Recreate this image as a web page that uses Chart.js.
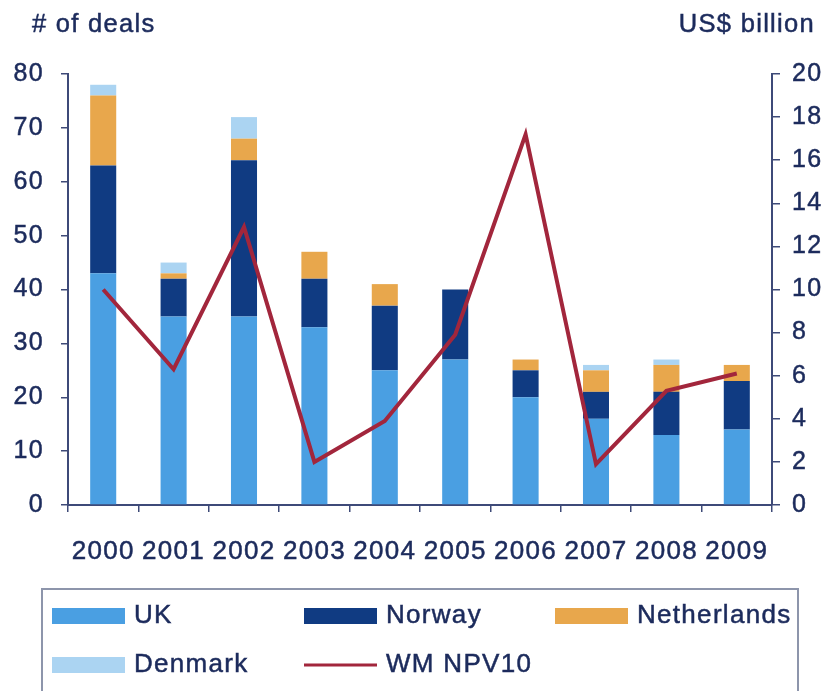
<!DOCTYPE html>
<html>
<head>
<meta charset="utf-8">
<script src="https://cdn.jsdelivr.net/npm/chart.js@4/dist/chart.umd.min.js"></script>
<style>
  html, body { margin: 0; padding: 0; background: #ffffff; }
  canvas { display: block; }
</style>
</head>
<body>
<canvas id="chart" width="831" height="691"></canvas>
<script>
// Deal counts by country (left axis) and value of deals (right axis)
const years = ['2000', '2001', '2002', '2003', '2004', '2005', '2006', '2007', '2008', '2009'];
const ukDeals          = [43, 35, 35, 33, 25, 27, 20, 16, 13, 14];
const norwayDeals      = [20,  7, 29,  9, 12, 13,  5,  5,  8,  9];
const netherlandsDeals = [13,  1,  4,  5,  4,  0,  2,  4,  5,  3];
const denmarkDeals     = [ 2,  2,  4,  0,  0,  0,  0,  1,  1,  0];
const wmNpv10          = [10, 6.3, 12.9, 2.0, 3.9, 7.9, 17.2, 1.9, 5.3, 6.1];

const dealTicks  = [0, 10, 20, 30, 40, 50, 60, 70, 80];
const valueTicks = [0, 2, 4, 6, 8, 10, 12, 14, 16, 18, 20];

const TEXT = '#1c2b5c';
const AXIS = '#3e4a78';
const FONT = '"Liberation Sans", Arial, Helvetica, sans-serif';
const SPACING = '1.3px';
const STROKE = 0.5;

// Slightly widened lettering for all canvas text
const letterSpacing = {
  id: 'letterSpacing',
  beforeInit(chart) { chart.ctx.letterSpacing = SPACING; },
  beforeUpdate(chart) { chart.ctx.letterSpacing = SPACING; },
  beforeDraw(chart) { chart.ctx.letterSpacing = SPACING; }
};

function label(ctx, text, x, y) {
  ctx.fillText(text, x, y);
  ctx.strokeText(text, x, y);
}

// Unit captions above each value axis
const axisCaptions = {
  id: 'axisCaptions',
  afterDraw(chart) {
    const ctx = chart.ctx;
    ctx.save();
    ctx.fillStyle = TEXT;
    ctx.strokeStyle = TEXT;
    ctx.lineWidth = STROKE;
    ctx.font = '25.5px ' + FONT;
    ctx.textBaseline = 'middle';
    ctx.textAlign = 'left';
    label(ctx, '# of deals', 32, 25);
    ctx.textAlign = 'right';
    label(ctx, 'US$ billion', 815, 25);
    ctx.restore();
  }
};

// Boxed legend laid out on a three-column grid
const gridLegend = {
  id: 'gridLegend',
  afterDraw(chart) {
    const ctx = chart.ctx;
    const cols = [52, 304, 555];
    const rows = [616, 665];
    const swatchW = 73, swatchH = 16;
    ctx.save();
    ctx.strokeStyle = '#8d95ab';
    ctx.lineWidth = 2;
    ctx.strokeRect(42, 589, 756, 140);
    ctx.font = '26px ' + FONT;
    ctx.textBaseline = 'middle';
    ctx.textAlign = 'left';
    chart.data.datasets.forEach((ds, i) => {
      const x = cols[i % 3];
      const y = rows[Math.floor(i / 3)];
      if (ds.type === 'line') {
        ctx.strokeStyle = ds.borderColor;
        ctx.lineWidth = 3;
        ctx.beginPath();
        ctx.moveTo(x, y);
        ctx.lineTo(x + swatchW, y);
        ctx.stroke();
      } else {
        ctx.fillStyle = ds.backgroundColor;
        ctx.fillRect(x, y - swatchH / 2, swatchW, swatchH);
      }
      ctx.fillStyle = TEXT;
      ctx.strokeStyle = TEXT;
      ctx.lineWidth = STROKE;
      label(ctx, ds.label, x + swatchW + 9, y);
    });
    ctx.restore();
  }
};

const barStyle = { barPercentage: 0.37, categoryPercentage: 1.0, borderWidth: 0, yAxisID: 'y', order: 1 };

const tickText = { color: TEXT, textStrokeColor: TEXT, textStrokeWidth: STROKE };

new Chart(document.getElementById('chart'), {
  data: {
    labels: years,
    datasets: [
      Object.assign({ type: 'bar', label: 'UK', data: ukDeals, backgroundColor: '#4a9fe2' }, barStyle),
      Object.assign({ type: 'bar', label: 'Norway', data: norwayDeals, backgroundColor: '#103b82' }, barStyle),
      Object.assign({ type: 'bar', label: 'Netherlands', data: netherlandsDeals, backgroundColor: '#e8a74c' }, barStyle),
      Object.assign({ type: 'bar', label: 'Denmark', data: denmarkDeals, backgroundColor: '#abd4f2' }, barStyle),
      {
        type: 'line', label: 'WM NPV10', data: wmNpv10, yAxisID: 'y1', order: 0,
        borderColor: '#a2263c', borderWidth: 4, pointRadius: 0, tension: 0, fill: false,
        borderJoinStyle: 'miter'
      }
    ]
  },
  options: {
    responsive: false,
    animation: false,
    devicePixelRatio: 1,
    layout: { padding: { top: 74, bottom: 116, left: 0, right: 0 } },
    plugins: { legend: { display: false }, tooltip: { enabled: false } },
    scales: {
      x: {
        stacked: true,
        offset: true,
        grid: { display: true, drawOnChartArea: false, drawTicks: true, tickLength: 7, color: AXIS, lineWidth: 1.5, offset: true },
        border: { display: true, color: AXIS, width: 2 },
        ticks: Object.assign({ font: { family: FONT, size: 26 }, padding: 24, maxRotation: 0, autoSkip: false }, tickText),
        afterFit(scale) { scale.height = 70; }
      },
      y: {
        position: 'left',
        stacked: true,
        min: dealTicks[0],
        max: dealTicks[dealTicks.length - 1],
        afterBuildTicks(scale) { scale.ticks = dealTicks.map(v => ({ value: v })); },
        grid: { display: true, drawOnChartArea: false, drawTicks: true, tickLength: 7, color: AXIS, lineWidth: 1.5 },
        border: { display: true, color: AXIS, width: 2 },
        ticks: Object.assign({ font: { family: FONT, size: 25 }, padding: 17 }, tickText),
        afterFit(scale) { scale.width = 68; }
      },
      y1: {
        position: 'right',
        stacked: false,
        min: valueTicks[0],
        max: valueTicks[valueTicks.length - 1],
        afterBuildTicks(scale) { scale.ticks = valueTicks.map(v => ({ value: v })); },
        grid: { display: true, drawOnChartArea: false, drawTicks: true, tickLength: 8, color: AXIS, lineWidth: 1.5 },
        border: { display: true, color: AXIS, width: 2 },
        ticks: Object.assign({ font: { family: FONT, size: 25 }, padding: 12 }, tickText),
        afterFit(scale) { scale.width = 59; }
      }
    }
  },
  plugins: [letterSpacing, axisCaptions, gridLegend]
});
</script>
</body>
</html>
